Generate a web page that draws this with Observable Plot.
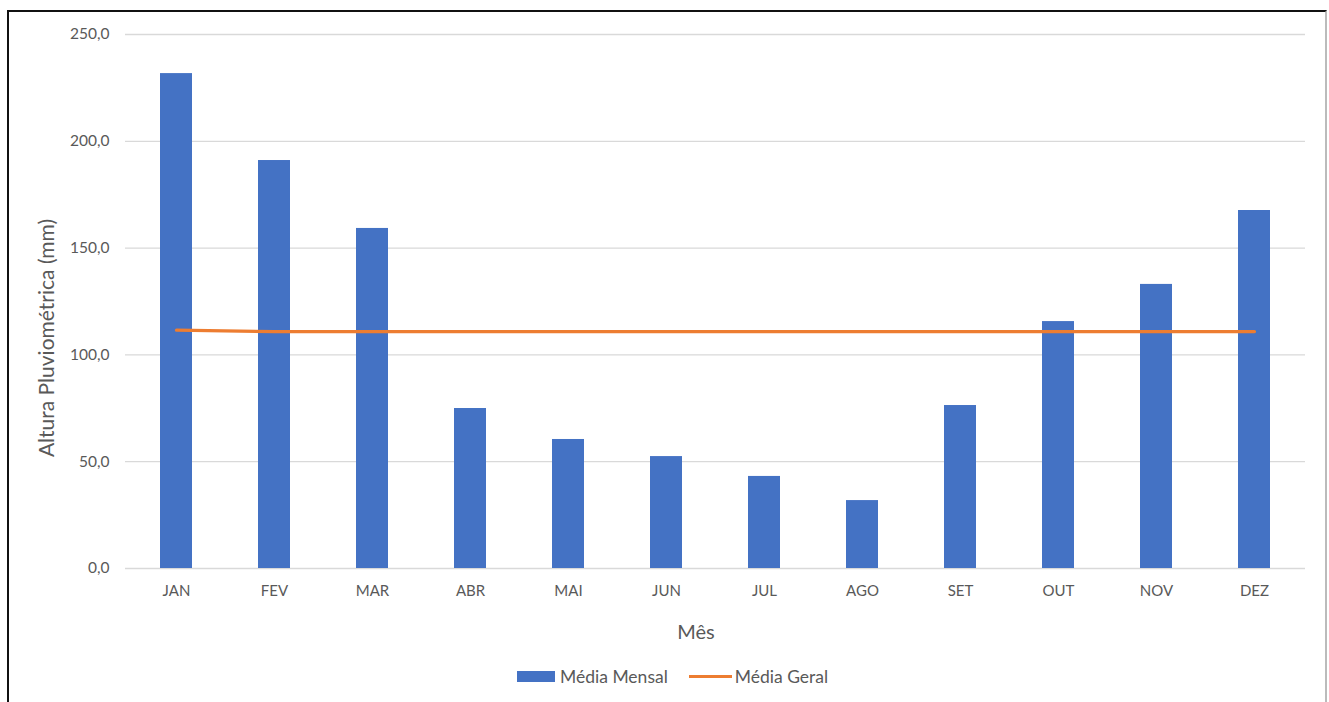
<!DOCTYPE html>
<html><head><meta charset="utf-8">
<script src="https://cdn.jsdelivr.net/npm/d3@7"></script>
<script src="https://cdn.jsdelivr.net/npm/@observablehq/plot@0.6"></script>
<style>
html,body{margin:0;padding:0;background:#fff;}
#wrap{position:relative;width:1329px;height:702px;overflow:hidden;font-family:Lato,"Open Sans",sans-serif;}
#frame{position:absolute;left:7px;top:10px;width:1316px;height:700px;border-top:2px solid #111;border-left:2px solid #111;border-right:2px solid #bbb;}
#chart{position:absolute;left:0;top:0;}
#ylab{position:absolute;left:45px;top:338px;transform:translate(-50%,-50%) rotate(-90deg);font-size:21px;color:#595959;white-space:nowrap;}
#xlab{position:absolute;left:696px;top:631px;transform:translate(-50%,-50%);font-size:20px;color:#595959;}
#legend{position:absolute;left:517px;top:666px;display:flex;align-items:center;font-size:17.5px;color:#595959;}
.sw{display:inline-block;}
</style></head>
<body><div id="wrap"><div id="frame"></div><div id="chart"></div>
<div id="ylab">Altura Pluviométrica (mm)</div>
<div id="xlab">Mês</div>
<div id="legend"><span class="sw" style="width:38px;height:11px;background:#4472C4;margin-right:5px"></span><span>Média Mensal</span><span class="sw" style="width:43px;height:3px;background:#ED7D31;margin-left:21px;margin-right:3px"></span><span>Média Geral</span></div>
</div>
<script>
const months = ["JAN","FEV","MAR","ABR","MAI","JUN","JUL","AGO","SET","OUT","NOV","DEZ"];
const mediaMensal = [231.7,191.0,159.2,74.9,60.4,52.4,43.1,31.8,76.3,115.6,133.0,167.6];
const mediaGeral = [111.6,110.9,110.9,110.9,110.9,110.9,110.9,110.9,110.9,110.9,110.9,110.9];
const yTicks = [0,50,100,150,200,250];

const bars = months.map((m,i)=>({m, v: mediaMensal[i]}));
const line = months.map((m,i)=>({m, v: mediaGeral[i]}));
const fmt = d => d.toFixed(1).replace(".", ",");

const plot = Plot.plot({
  width: 1329, height: 650,
  marginTop: 34, marginBottom: 82, marginLeft: 125, marginRight: 24,
  style: {fontFamily: "Lato, 'Open Sans', sans-serif", fontSize: "15px", color: "#595959", background: "transparent"},
  x: {domain: months, paddingInner: 0.67, paddingOuter: 0.335, label: null},
  y: {domain: [0,250], ticks: yTicks, tickFormat: fmt, label: null},
  marks: [
    Plot.gridY(yTicks, {stroke: "#d9d9d9", strokeOpacity: 1, strokeWidth: 1.3}),
    Plot.barY(bars, {x: "m", y: "v", fill: "#4472C4"}),
    Plot.line(line, {x: "m", y: "v", stroke: "#ED7D31", strokeWidth: 3.2, curve: "linear"}),
    Plot.axisX({tickSize: 0, tickPadding: 17, fontSize: 15}),
    Plot.axisY(yTicks, {tickSize: 0, tickPadding: 16, tickFormat: fmt, fontSize: 15.5})
  ]
});
document.getElementById("chart").appendChild(plot);
</script></body></html>
